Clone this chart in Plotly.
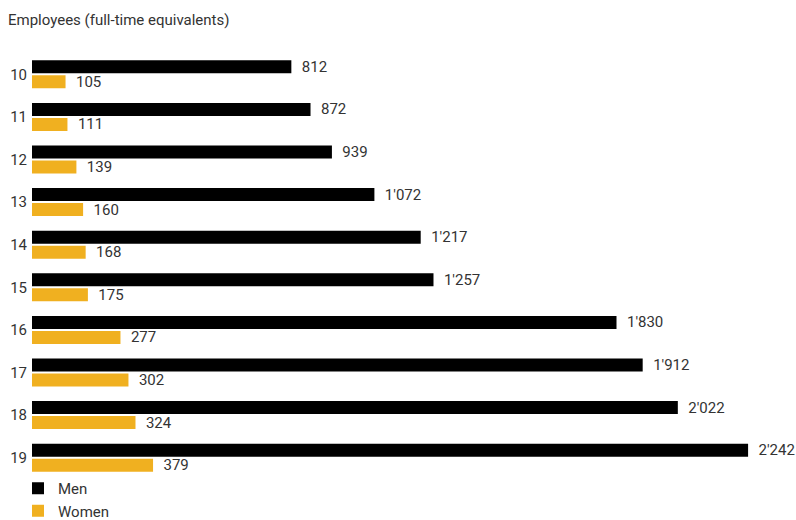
import plotly.graph_objects as go

years = ["10", "11", "12", "13", "14", "15", "16", "17", "18", "19"]
men = [812, 872, 939, 1072, 1217, 1257, 1830, 1912, 2022, 2242]
women = [105, 111, 139, 160, 168, 175, 277, 302, 324, 379]

def fmt(v):
    return "  " + f"{v:,}".replace(",", "'")

FONT = "Roboto, sans-serif"
TXT = "#333333"
FS = 15

fig = go.Figure()
fig.add_trace(go.Bar(y=years, x=men, orientation="h", name="Men",
                     marker=dict(color="#000000", line=dict(width=0)),
                     text=[fmt(v) for v in men], textposition="outside",
                     constraintext="none",
                     textfont=dict(size=FS, color=TXT, family=FONT),
                     cliponaxis=False))
fig.add_trace(go.Bar(y=years, x=women, orientation="h", name="Women",
                     marker=dict(color="#f0b020", line=dict(width=0)),
                     text=[fmt(v) for v in women], textposition="outside",
                     constraintext="none",
                     textfont=dict(size=FS, color=TXT, family=FONT),
                     cliponaxis=False))

fig.update_layout(
    width=796, height=520,
    margin=dict(l=32, r=0, t=53, b=41, autoexpand=False),
    paper_bgcolor="white", plot_bgcolor="white",
    barmode="group", bargap=0.297, bargroupgap=0.133,
    font=dict(family=FONT, size=FS, color=TXT),
    showlegend=True,
    legend=dict(orientation="v", x=18 / 796, xanchor="left", xref="container",
                y=1 - 472 / 520, yanchor="top", yref="container",
                font=dict(size=FS, color=TXT, family=FONT),
                itemwidth=30, tracegroupgap=0, bgcolor="rgba(0,0,0,0)"),
    annotations=[dict(text="Employees (full-time equivalents)", xref="paper", yref="paper",
                      x=-26 / 764, y=1, yshift=44, xanchor="left", yanchor="top",
                      showarrow=False, font=dict(size=FS, color=TXT, family=FONT))],
)
fig.update_xaxes(range=[0, 764 / 0.3194], showgrid=False, zeroline=False, showticklabels=False,
                 showline=False)
fig.update_yaxes(autorange="reversed", showgrid=False, zeroline=False, showline=False,
                 automargin=False,
                 ticks="", ticklabelstandoff=4, tickfont=dict(size=FS, color=TXT, family=FONT))

fig.write_html("out.html", config={"displayModeBar": False},
               post_script="document.body.style.margin='0';")
